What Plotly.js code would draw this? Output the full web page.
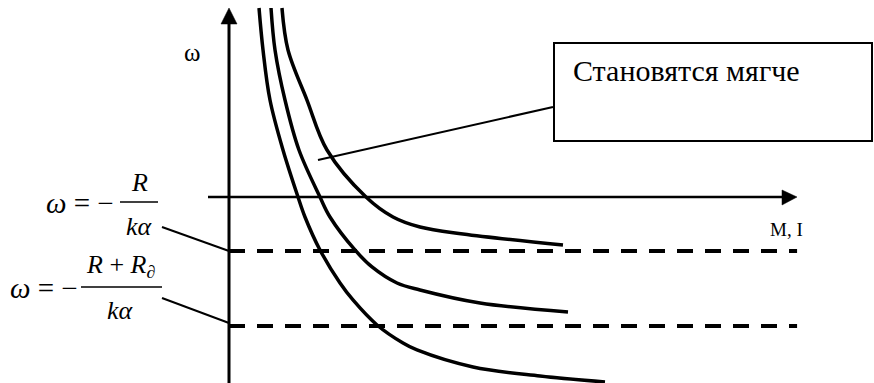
<!DOCTYPE html>
<html>
<head>
<meta charset="utf-8">
<script src="https://cdn.plot.ly/plotly-3.0.1.min.js"></script>
<style>
html,body{margin:0;padding:0;background:#fff;}
#chart{width:874px;height:383px;}
</style>
</head>
<body>
<div id="chart"></div>
<script>
// ---- data (units: M along x, ω along y; origin at the axes crossing) ----
const curve1M = [0.556, 0.630, 0.759, 1.000, 1.278, 1.407, 1.685, 2.056, 2.296, 2.741, 3.222, 3.481, 4.519, 5.759, 6.963];
const curve1W = [3.500, 2.722, 1.796, 0.870, 0.000, -0.370, -0.981, -1.593, -1.907, -2.370, -2.704, -2.833, -3.148, -3.315, -3.426];
const curve2M = [0.778, 0.852, 1.037, 1.296, 1.685, 1.870, 2.333, 2.648, 3.111, 3.537, 4.648, 6.278];
const curve2W = [3.500, 2.722, 1.796, 0.870, 0.000, -0.370, -0.981, -1.296, -1.593, -1.722, -1.963, -2.130];
const curve3M = [0.981, 1.093, 1.444, 1.815, 2.537, 3.037, 3.537, 4.333, 6.185];
const curve3W = [3.500, 2.722, 1.796, 0.870, 0.000, -0.370, -0.556, -0.685, -0.889];
const omegaR  = -1.0;    // ω = −R/(kα)
const omegaRd = -2.39;   // ω = −(R+Rд)/(kα)
const dashM   = [0, 10.52];
const labelBox = "Становятся мягче";
const labelW = "ω";
const labelM = "М, I";

// ---- layout helpers (pixel -> data) ----
const S = 54, OX = 229, OY = 197;
const dx = p => (p - OX) / S;
const dy = p => (OY - p) / S;
const FONT = "'Liberation Serif', 'Times New Roman', Times, serif";

const curveLine = {color: "#000", width: 3.5, shape: "spline", smoothing: 1};
const dashLine = {color: "#000", width: 4, dash: "16px,12px"};

const traces = [
  {x: curve1M, y: curve1W, mode: "lines", line: curveLine, hoverinfo: "skip"},
  {x: curve2M, y: curve2W, mode: "lines", line: curveLine, hoverinfo: "skip"},
  {x: curve3M, y: curve3W, mode: "lines", line: curveLine, hoverinfo: "skip"},
  {x: dashM, y: [omegaR, omegaR], mode: "lines", line: dashLine, hoverinfo: "skip"},
  {x: dashM, y: [omegaRd, omegaRd], mode: "lines", line: dashLine, hoverinfo: "skip"}
];

function seg(x0, y0, x1, y1, w) {
  return {type: "line", xref: "x", yref: "y", x0: dx(x0), y0: dy(y0), x1: dx(x1), y1: dy(y1),
          line: {color: "#000", width: w}};
}
function tri(pts) {
  const d = "M" + pts.map(p => dx(p[0]) + "," + dy(p[1])).join("L") + "Z";
  return {type: "path", xref: "x", yref: "y", path: d, fillcolor: "#000", line: {color: "#000", width: 0.5}};
}
function txt(x, y, text, size, xanchor) {
  return {xref: "x", yref: "y", x: dx(x), y: dy(y), text: text, showarrow: false,
          xanchor: xanchor || "center", yanchor: "middle",
          font: {family: FONT, size: size, color: "#000"}};
}

const shapes = [
  // axes
  seg(229, 390, 229, 20, 3),
  tri([[229, 8], [221, 24], [237, 24]]),
  seg(208, 197, 785, 197, 2.5),
  tri([[797, 197], [782, 190], [782, 205]]),
  // callout box
  {type: "rect", xref: "x", yref: "y", x0: dx(554), y0: dy(43), x1: dx(872), y1: dy(141),
   line: {color: "#000", width: 2}, fillcolor: "rgba(0,0,0,0)"},
  seg(553, 107, 318, 160, 2),
  // formula leaders
  seg(162, 227, 229, 251, 2),
  seg(162, 298, 229, 323, 2),
  // fraction bars
  seg(120, 202, 158, 202, 1.5),
  seg(81, 287, 162, 287, 1.5)
];

const annotations = [
  txt(192, 52, labelW, 25),
  txt(786, 229, labelM, 19),
  txt(571, 70, labelBox, 30, "left"),
  // formula 1
  txt(116, 203, "<i>ω</i> = −", 29, "right"),
  txt(139, 182, "<i>R</i>", 26),
  txt(139, 226, "<i>kα</i>", 26),
  // formula 2
  txt(80, 288, "<i>ω</i> = −", 29, "right"),
  txt(120, 266, "<i>R</i> + <i>R</i><sub>∂</sub>", 26),
  txt(120, 310, "<i>kα</i>", 26)
];

const layout = {
  width: 874, height: 383,
  margin: {l: 0, r: 0, t: 0, b: 0},
  paper_bgcolor: "#fff", plot_bgcolor: "#fff",
  showlegend: false,
  font: {family: FONT, color: "#000"},
  xaxis: {range: [dx(0), dx(874)], visible: false, fixedrange: true},
  yaxis: {range: [dy(383), dy(0)], visible: false, fixedrange: true},
  shapes: shapes,
  annotations: annotations
};

Plotly.newPlot("chart", traces, layout, {staticPlot: true, displayModeBar: false});
</script>
</body>
</html>
